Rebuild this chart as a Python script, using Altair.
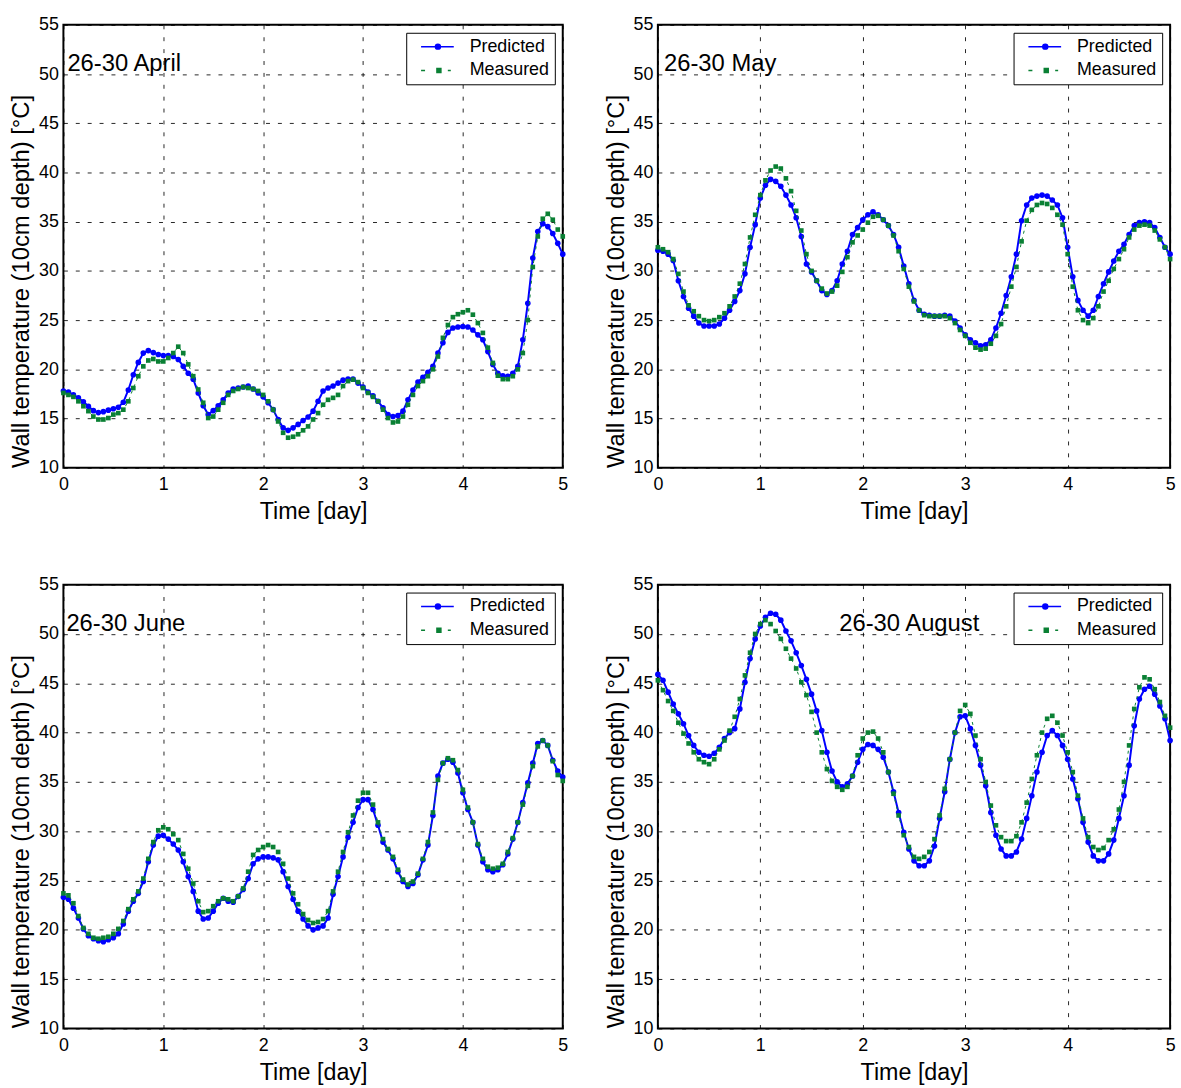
import altair as alt
import pandas as pd

# ---------------- data ----------------
TIME = [round(i * 0.05, 2) for i in range(101)]  # sample times [day]
SERIES = ["Predicted", "Measured"]
COLORS = ["#0000ff", "#0a8034"]
X_TICKS = [0, 1, 2, 3, 4, 5]
Y_TICKS = [10, 15, 20, 25, 30, 35, 40, 45, 50, 55]

APR_PRED = [17.8, 17.7, 17.4, 17.1, 16.7, 16.25, 15.8, 15.6, 15.7, 15.85,
            16.0, 16.15, 16.65, 17.9, 19.45, 20.7, 21.65, 21.9, 21.7, 21.5,
            21.4, 21.4, 21.3, 21.0, 20.3, 19.6, 19.0, 17.6, 16.3, 15.4,
            15.8, 16.3, 16.9, 17.6, 18.0, 18.1, 18.2, 18.3, 18.0, 17.6,
            17.2, 16.6, 15.9, 14.9, 14.05, 13.8, 14.05, 14.4, 14.8, 15.15,
            15.75, 16.75, 17.8, 18.1, 18.3, 18.6, 18.9, 19.0, 19.0, 18.6,
            18.2, 17.7, 17.3, 16.75, 16.1, 15.4, 15.2, 15.3, 15.75, 16.9,
            17.9, 18.7, 19.2, 19.7, 20.3, 21.65, 22.7, 23.75, 24.2, 24.3,
            24.35, 24.3, 24.0, 23.5, 23.0, 21.8, 20.5, 19.6, 19.35, 19.3,
            19.6, 20.3, 23.0, 26.7, 31.3, 34.0, 34.8, 34.5, 33.8, 32.8, 31.7]
APR_MEAS = [17.6, 17.4, 17.2, 16.75, 16.25, 15.75, 15.2, 14.9, 14.9, 15.05,
            15.4, 15.55, 15.9, 16.75, 18.1, 19.3, 20.3, 20.9, 21.05, 20.8,
            20.8, 21.15, 21.65, 22.3, 21.65, 20.5, 19.3, 17.95, 16.6, 15.05,
            15.2, 15.9, 16.6, 17.4, 17.8, 18.0, 18.2, 18.1, 18.0, 17.8,
            17.4, 16.75, 15.9, 14.7, 13.55, 13.05, 13.15, 13.4, 13.8, 14.2,
            14.9, 15.55, 16.4, 16.9, 17.1, 17.4, 18.3, 18.8, 18.95, 18.7,
            18.1, 17.6, 17.2, 16.75, 15.9, 15.05, 14.6, 14.7, 15.2, 16.4,
            17.4, 18.3, 18.8, 19.3, 20.0, 21.3, 23.2, 24.5, 25.3, 25.6,
            25.8, 26.0, 25.55, 24.7, 23.7, 22.2, 20.65, 19.35, 19.0, 19.0,
            19.3, 20.0, 21.65, 25.0, 30.4, 33.5, 35.3, 35.8, 35.2, 34.2, 33.5]

MAY_PRED = [32.1, 32.0, 31.7, 31.05, 29.0, 27.4, 26.2, 25.4, 24.7, 24.4,
            24.4, 24.4, 24.6, 25.2, 26.0, 26.9, 28.0, 29.7, 32.4, 34.7,
            37.4, 38.7, 39.3, 39.1, 38.6, 37.7, 36.7, 35.4, 33.5, 30.7,
            29.9, 29.0, 28.0, 27.6, 28.0, 29.0, 30.7, 32.0, 33.7, 34.4,
            35.2, 35.7, 36.0, 35.7, 35.2, 34.6, 33.7, 32.4, 30.5, 28.7,
            27.0, 26.0, 25.6, 25.5, 25.4, 25.4, 25.5, 25.4, 24.9, 24.2,
            23.5, 23.0, 22.7, 22.4, 22.5, 23.0, 24.2, 25.7, 27.5, 29.4,
            31.7, 35.1, 36.7, 37.4, 37.6, 37.7, 37.6, 37.2, 36.7, 35.4,
            32.4, 29.4, 27.0, 26.0, 25.4, 26.0, 27.4, 28.7, 29.9, 31.0,
            32.0, 32.7, 33.7, 34.6, 34.9, 35.0, 34.9, 34.4, 33.4, 32.4, 31.7]
MAY_MEAS = [32.4, 32.2, 31.9, 31.2, 29.7, 27.9, 26.5, 25.9, 25.4, 25.0,
            24.9, 25.0, 25.3, 25.7, 26.4, 27.4, 28.7, 30.7, 33.4, 35.7,
            37.7, 39.2, 40.2, 40.6, 40.4, 39.4, 38.1, 36.1, 34.1, 31.7,
            30.0, 29.0, 28.2, 27.7, 27.9, 28.5, 29.9, 31.4, 32.9, 33.6,
            34.2, 34.9, 35.5, 35.6, 35.2, 34.6, 33.6, 32.0, 30.2, 28.4,
            26.9, 26.0, 25.5, 25.4, 25.4, 25.4, 25.4, 25.2, 24.7, 24.0,
            23.4, 22.7, 22.2, 22.0, 22.1, 22.6, 23.4, 24.6, 26.4, 28.4,
            30.4, 33.0, 35.1, 36.2, 36.7, 36.9, 36.8, 36.4, 35.7, 34.7,
            31.7, 28.4, 26.0, 25.0, 24.7, 25.2, 26.4, 27.9, 29.0, 30.2,
            31.2, 32.2, 33.4, 34.2, 34.6, 34.7, 34.6, 34.1, 33.2, 32.4, 31.2]

JUN_PRED = [23.3, 23.1, 22.2, 21.2, 20.1, 19.4, 19.1, 18.9, 18.8, 19.0,
            19.2, 19.6, 20.6, 21.9, 22.9, 23.7, 24.9, 26.9, 28.6, 29.5,
            29.6, 29.2, 28.7, 28.1, 26.9, 25.4, 23.9, 21.9, 21.1, 21.2,
            21.9, 22.7, 23.2, 22.9, 22.8, 23.4, 24.1, 25.2, 26.7, 27.2,
            27.4, 27.4, 27.3, 27.1, 25.9, 24.4, 23.1, 21.9, 21.1, 20.4,
            20.0, 20.2, 20.4, 21.2, 23.6, 25.4, 27.4, 29.4, 30.9, 32.4,
            33.2, 33.2, 32.2, 30.6, 28.9, 28.1, 27.2, 25.9, 24.9, 24.4,
            24.7, 25.6, 27.1, 28.6, 31.6, 35.6, 36.9, 37.3, 37.0, 35.9,
            33.9, 32.2, 30.9, 28.6, 26.9, 26.1, 25.9, 26.1, 26.6, 27.7,
            29.2, 30.9, 32.9, 34.9, 36.9, 38.9, 39.2, 38.7, 37.2, 36.1, 35.5]
JUN_MEAS = [23.7, 23.5, 22.7, 21.4, 20.2, 19.6, 19.2, 19.1, 19.2, 19.3,
            19.6, 20.1, 20.9, 22.1, 23.1, 23.9, 25.2, 27.2, 28.9, 30.1,
            30.4, 30.2, 29.7, 29.1, 27.7, 26.2, 24.7, 22.9, 21.8, 21.9,
            22.4, 22.9, 23.2, 23.1, 22.9, 23.4, 24.2, 25.9, 27.6, 28.1,
            28.4, 28.6, 28.4, 27.9, 26.7, 25.2, 23.7, 22.6, 21.6, 21.0,
            20.7, 20.8, 21.1, 21.9, 23.9, 25.9, 27.9, 29.9, 31.6, 33.1,
            33.9, 33.9, 32.7, 30.9, 29.2, 28.2, 27.4, 26.1, 25.1, 24.6,
            24.9, 25.7, 27.2, 28.9, 31.9, 35.2, 36.9, 37.4, 37.2, 36.2,
            34.2, 32.4, 30.9, 28.7, 27.2, 26.4, 26.2, 26.3, 26.7, 27.9,
            29.3, 30.9, 32.7, 34.6, 36.6, 38.6, 39.2, 38.7, 37.1, 35.7, 35.1]

AUG_PRED = [45.9, 45.3, 44.1, 42.9, 41.9, 40.9, 39.7, 38.7, 38.0, 37.7,
            37.6, 37.9, 38.5, 39.4, 40.0, 40.4, 42.4, 45.1, 47.5, 49.5,
            50.8, 51.7, 52.1, 52.0, 51.4, 50.3, 49.3, 48.1, 46.8, 45.4,
            43.9, 42.2, 40.2, 38.0, 36.1, 35.0, 34.5, 34.8, 35.6, 37.0,
            38.3, 38.8, 38.7, 38.3, 37.5, 36.0, 34.0, 31.9, 29.9, 28.2,
            27.0, 26.5, 26.5, 27.0, 28.5, 31.3, 34.0, 37.3, 40.0, 41.6,
            41.7, 40.4, 38.7, 36.7, 34.6, 31.9, 29.6, 28.2, 27.5, 27.5,
            27.9, 29.2, 31.3, 33.6, 36.0, 38.0, 39.7, 40.2, 39.7, 38.7,
            37.3, 35.3, 33.3, 30.9, 28.9, 27.5, 27.0, 27.0, 27.7, 29.1,
            31.3, 33.6, 36.7, 40.7, 43.4, 44.4, 44.7, 43.9, 42.7, 41.4, 39.2]
AUG_MEAS = [45.3, 44.3, 43.2, 42.2, 41.0, 39.9, 38.9, 38.0, 37.3, 37.0,
            36.8, 37.3, 38.3, 39.2, 40.2, 41.6, 43.4, 45.8, 48.1, 50.0,
            51.0, 51.4, 51.0, 50.3, 49.5, 48.5, 47.5, 46.5, 45.1, 43.8,
            42.1, 40.0, 38.0, 36.3, 35.1, 34.5, 34.2, 34.5, 35.6, 37.7,
            39.4, 40.0, 40.1, 39.4, 38.0, 36.0, 33.8, 31.6, 29.6, 28.4,
            27.4, 27.2, 27.4, 27.9, 29.2, 31.6, 34.3, 37.3, 40.0, 42.2,
            42.8, 41.9, 39.7, 37.3, 35.0, 32.6, 30.6, 29.4, 29.0, 29.0,
            29.5, 30.9, 32.9, 35.3, 37.7, 40.0, 41.4, 41.7, 41.0, 39.7,
            38.0, 36.0, 33.6, 31.3, 29.4, 28.4, 28.1, 28.3, 29.1, 30.2,
            32.2, 35.0, 38.7, 42.4, 44.6, 45.6, 45.4, 44.4, 43.1, 41.7, 40.5]

LABELS = ["26-30 April", "26-30 May", "26-30 June", "26-30 August"]

# ---------------- styling ----------------
FONT = "Liberation Sans"
PRED_PATH = "M0.2,0L6.8,0M3.1,0A0.5,0.5,0,1,1,4.1,0A0.5,0.5,0,1,1,3.1,0Z"
MEAS_PATH = "M0.2,0L1.0,0M5.6,0L6.2,0M3.4,-0.4L4.2,-0.4L4.2,0.4L3.4,0.4Z"


def pick(a, b):
    return {"expr": f"datum.value === '{SERIES[0]}' ? '{a}' : '{b}'"}


def make_legend():
    return alt.Legend(
        title=None, orient="top-right", offset=8,
        fillColor="white", strokeColor="black", padding=5,
        labelFont=FONT, labelFontSize=18, labelColor="black",
        symbolSize=100, labelOffset=41, rowPadding=6,
        symbolStrokeWidth=1.5, symbolOpacity=1,
        symbolType=pick(PRED_PATH, MEAS_PATH),
        symbolFillColor=pick(COLORS[0], COLORS[1]),
        symbolStrokeColor=pick(COLORS[0], COLORS[1]),
    )


def panel(pred, meas, label, lx, ly, width, height):
    df = pd.DataFrame({
        "t": TIME + TIME,
        "T": pred + meas,
        "series": [SERIES[0]] * len(pred) + [SERIES[1]] * len(meas),
    })
    base = alt.Chart(df)
    x = alt.X("t:Q", scale=alt.Scale(domain=[0, 5], nice=False),
              axis=alt.Axis(values=X_TICKS, format="d", title="Time [day]",
                            labelFlush=False, labelPadding=8, titlePadding=6,
                            titleFontSize=23.5))
    y = alt.Y("T:Q", scale=alt.Scale(domain=[10, 55], nice=False),
              axis=alt.Axis(values=Y_TICKS, title="Wall temperature (10cm depth) [°C]",
                            labelFlush=False, titleFontSize=24, titleY=height / 2 + 35))
    color = alt.Color("series:N", scale=alt.Scale(domain=SERIES, range=COLORS),
                      legend=make_legend())
    pred_f = alt.datum.series == SERIES[0]
    meas_f = alt.datum.series == SERIES[1]
    line_p = base.transform_filter(pred_f).mark_line(strokeWidth=2).encode(x=x, y=y, color=color)
    pts_p = base.transform_filter(pred_f).mark_point(filled=True, shape="circle", size=32, opacity=1).encode(x=x, y=y, color=color)
    line_m = base.transform_filter(meas_f).mark_line(strokeWidth=1, strokeDash=[3, 4]).encode(x=x, y=y, color=color)
    pts_m = base.transform_filter(meas_f).mark_point(filled=True, shape="square", size=22, opacity=1).encode(x=x, y=y, color=color)
    txt = alt.Chart(pd.DataFrame({"t": [lx], "T": [ly], "label": [label]})).mark_text(
        align="left", baseline="middle", fontSize=24, font=FONT, color="black"
    ).encode(x="t:Q", y="T:Q", text="label:N")
    return alt.layer(line_p, pts_p, line_m, pts_m, txt).properties(width=width, height=height)


p1 = panel(APR_PRED, APR_MEAS, LABELS[0], 0.04, 51.0, 504, 447)
p2 = panel(MAY_PRED, MAY_MEAS, LABELS[1], 0.06, 51.0, 517, 447)
p3 = panel(JUN_PRED, JUN_MEAS, LABELS[2], 0.03, 51.0, 504, 448)
p4 = panel(AUG_PRED, AUG_MEAS, LABELS[3], 1.77, 51.0, 517, 448)

row1 = alt.hconcat(p1, p2, spacing=33).resolve_scale(color="independent").resolve_legend(color="independent")
row2 = alt.hconcat(p3, p4, spacing=33).resolve_scale(color="independent").resolve_legend(color="independent")

chart = alt.vconcat(row1, row2, spacing=51).resolve_scale(color="independent").resolve_legend(
    color="independent"
).properties(
    padding={"left": 8, "top": 10, "right": 4, "bottom": 2},
    background="white",
).configure(font=FONT).configure_view(
    stroke="black", strokeWidth=2
).configure_axis(
    grid=True, gridColor="black", gridDash=[4, 8], gridOpacity=0.85, gridWidth=1,
    domain=False, ticks=False,
    labelFont=FONT, labelFontSize=18, labelColor="black", labelPadding=5,
    titleFont=FONT, titleFontSize=22, titleFontWeight="normal", titleColor="black", titlePadding=5,
)

chart.save("out.html", embed_options={"renderer": "svg", "actions": False})
